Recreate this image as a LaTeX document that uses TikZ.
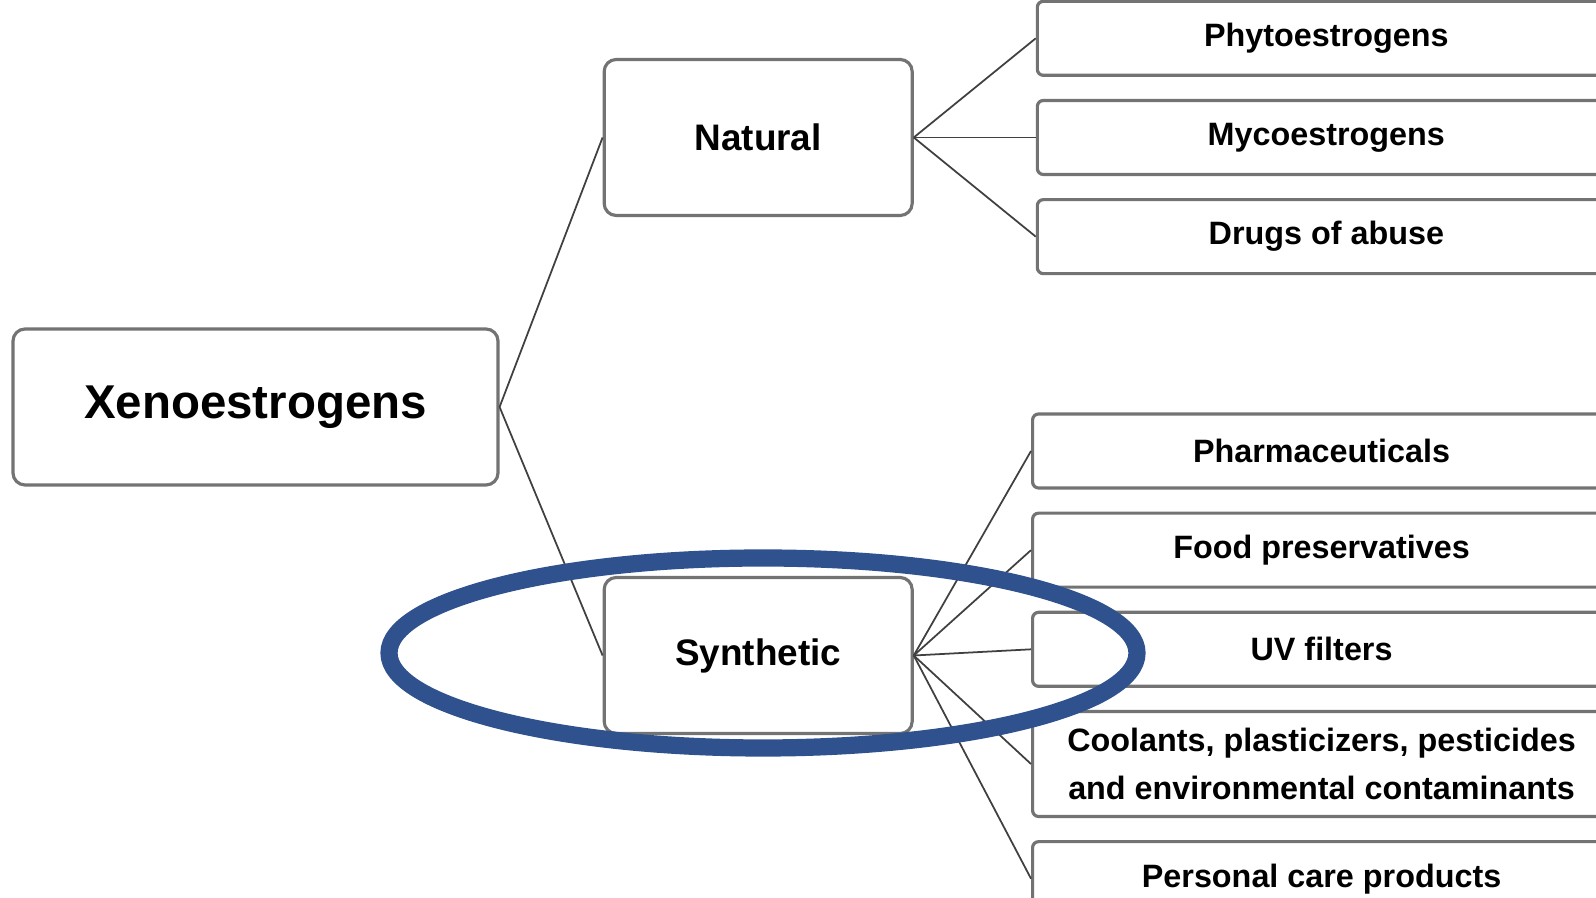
\documentclass[tikz,border=0pt]{standalone}
\usepackage{fontspec}
\setmainfont{Liberation Sans}
\usetikzlibrary{positioning}
\definecolor{ringblue}{HTML}{2F528F}

\begin{document}
\begin{tikzpicture}[node distance=0.22cm]

        % Styles
        \tikzstyle{box}=[rectangle, draw=black!55, line width=0.9pt, rounded corners=1.2mm, align=center, font=\bfseries\fontsize{10.5}{12.6}\selectfont, minimum width=3.08cm, minimum height=1.56cm]
        \tikzstyle{leaf}=[box, rounded corners=0.6mm, font=\bfseries\fontsize{9.2}{13.4}\selectfont, minimum width=5.78cm, minimum height=0.74cm]
        \tikzstyle{link}=[black!75, line width=0.5pt]
        \tikzstyle{ring}=[draw=ringblue, line width=4.9pt]

        \useasboundingbox (0,0) rectangle (15.96,8.98);
        \clip (0,0) rectangle (15.96,8.98);

        % Nodes
        \node[box, minimum width=4.85cm, font=\bfseries\fontsize{13.5}{16}\selectfont] (xeno) at (2.555,4.91) {Xenoestrogens};
        \node[box, right=1.03cm of xeno, yshift=2.695cm] (natural) {Natural};
        \node[box, right=1.03cm of xeno, yshift=-2.485cm] (synth) {Synthetic};

        \node[leaf, right=1.22cm of natural] (myco) {Mycoestrogens};
        \node[leaf, above=of myco] (phyto) {Phytoestrogens};
        \node[leaf, below=of myco] (drugs) {Drugs of abuse};

        \node[leaf, anchor=west] (pharma) at (10.31,4.47) {Pharmaceuticals};
        \node[leaf, below=of pharma] (food) {Food preservatives};
        \node[leaf, below=of food] (uv) {UV filters};
        \node[leaf, below=of uv, minimum height=1.05cm] (cool) {Coolants, plasticizers, pesticides\\and environmental contaminants};
        \node[leaf, below=of cool] (care) {Personal care products};

        % Lines
        \draw[link] (xeno.east) -- (natural.west);
        \draw[link] (xeno.east) -- (synth.west);
        \draw[link] (natural.east) -- (phyto.west);
        \draw[link] (natural.east) -- (myco.west);
        \draw[link] (natural.east) -- (drugs.west);
        \draw[link] (synth.east) -- (pharma.west);
        \draw[link] (synth.east) -- (food.west);
        \draw[link] (synth.east) -- (uv.west);
        \draw[link] (synth.east) -- (cool.west);
        \draw[link] (synth.east) -- (care.west);

        % Highlight
        \draw[ring] (7.63,2.45) ellipse [x radius=3.74cm, y radius=0.95cm];

    \end{tikzpicture}
\end{document}
